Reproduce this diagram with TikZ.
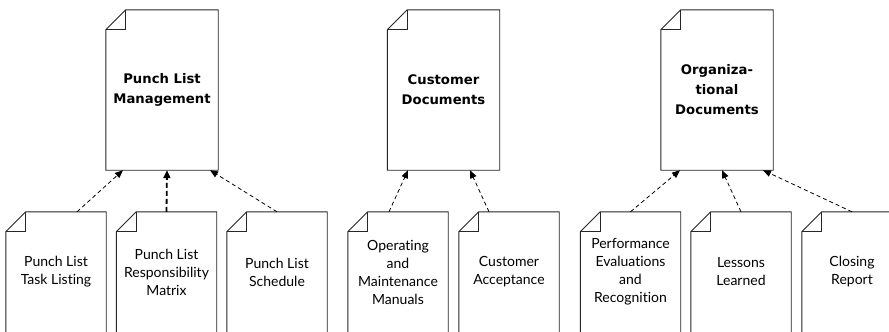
\documentclass[tikz,border=0pt]{standalone}
\usepackage{fontspec}
\setmainfont{Lato}[Ligatures={NoCommon}]
\newfontfamily\titlefont{DejaVu Sans}[Ligatures={NoCommon}]
\usetikzlibrary{arrows.meta}
\tikzset{
  topdoc/.style={minimum width=112pt, minimum height=160pt, inner sep=0pt, align=center, font=\titlefont\fontsize{13.2}{20}\selectfont\bfseries},
  botdoc/.style={minimum width=100pt, minimum height=120pt, inner sep=0pt, align=center, font=\fontsize{14}{18}\selectfont},
  docline/.style={line width=0.9pt, black!85},
  dep/.style={line width=0.8pt, dash pattern=on 4pt off 3pt, -{Triangle[length=8pt,width=6.5pt]}},
  depthick/.style={line width=1.8pt, dash pattern=on 5pt off 3pt, -{Triangle[length=8pt,width=7pt]}},
}
\begin{document}
\begin{tikzpicture}[x=1pt,y=-1pt]
\clip (0,0) rectangle (889,332);
\fill[white] (0,0) rectangle (889,332);
% top documents
\node[topdoc] (pm) at (162,90) {Punch List\\Management};
\node[topdoc] (cd) at (443.5,90) {Customer\\Documents};
\node[topdoc] (od) at (717,90) {Organiza-\\tional\\Documents};
% bottom documents
\node[botdoc] (b1) at (56,272) {Punch List\\Task Listing};
\node[botdoc] (b2) at (166.5,272) {Punch List\\Responsibility\\Matrix};
\node[botdoc] (b3) at (277,272) {Punch List\\Schedule};
\node[botdoc] (b4) at (398,272) {Operating\\and\\Maintenance\\Manuals};
\node[botdoc] (b5) at (509,272) {Customer\\Acceptance};
\node[botdoc] (b6) at (630.5,272) {Performance\\Evaluations\\and\\Recognition};
\node[botdoc] (b7) at (741,272) {Lessons\\Learned};
\node[botdoc] (b8) at (852,272) {Closing\\Report};
% outlines
\foreach \n in {pm,cd,od}{
  \draw[docline] (\n.south west) -- ([yshift=-20pt]\n.north west) -- ([xshift=20pt]\n.north west) -- (\n.north east) -- (\n.south east) -- cycle;
  \draw[docline] ([xshift=20pt]\n.north west) -- ++(0,20) -- ++(-20,0);
}
\foreach \n in {b1,b2,b3,b4,b5,b6,b7,b8}{
  \draw[docline] (\n.south west) -- ([yshift=-20pt]\n.north west) -- ([xshift=20pt]\n.north west) -- (\n.north east) -- (\n.south east);
  \draw[docline] ([xshift=20pt]\n.north west) -- ++(0,20) -- ++(-20,0);
}
% connectors
\draw[dep] ([xshift=21pt]b1.north) -- ([xshift=-39pt]pm.south);
\draw[depthick] (b2.north) -- ([xshift=5pt]pm.south);
\draw[dep] (b3.north) -- ([xshift=48pt]pm.south);
\draw[dep] ([xshift=-9pt]b4.north) -- ([xshift=-35.5pt]cd.south);
\draw[dep] ([xshift=-20pt]b5.north) -- ([xshift=26.5pt]cd.south);
\draw[dep] (b6.north) -- ([xshift=-37pt]od.south);
\draw[dep] (b7.north) -- ([xshift=5pt]od.south);
\draw[dep] (b8.north) -- ([xshift=46pt]od.south);
\end{tikzpicture}
\end{document}
